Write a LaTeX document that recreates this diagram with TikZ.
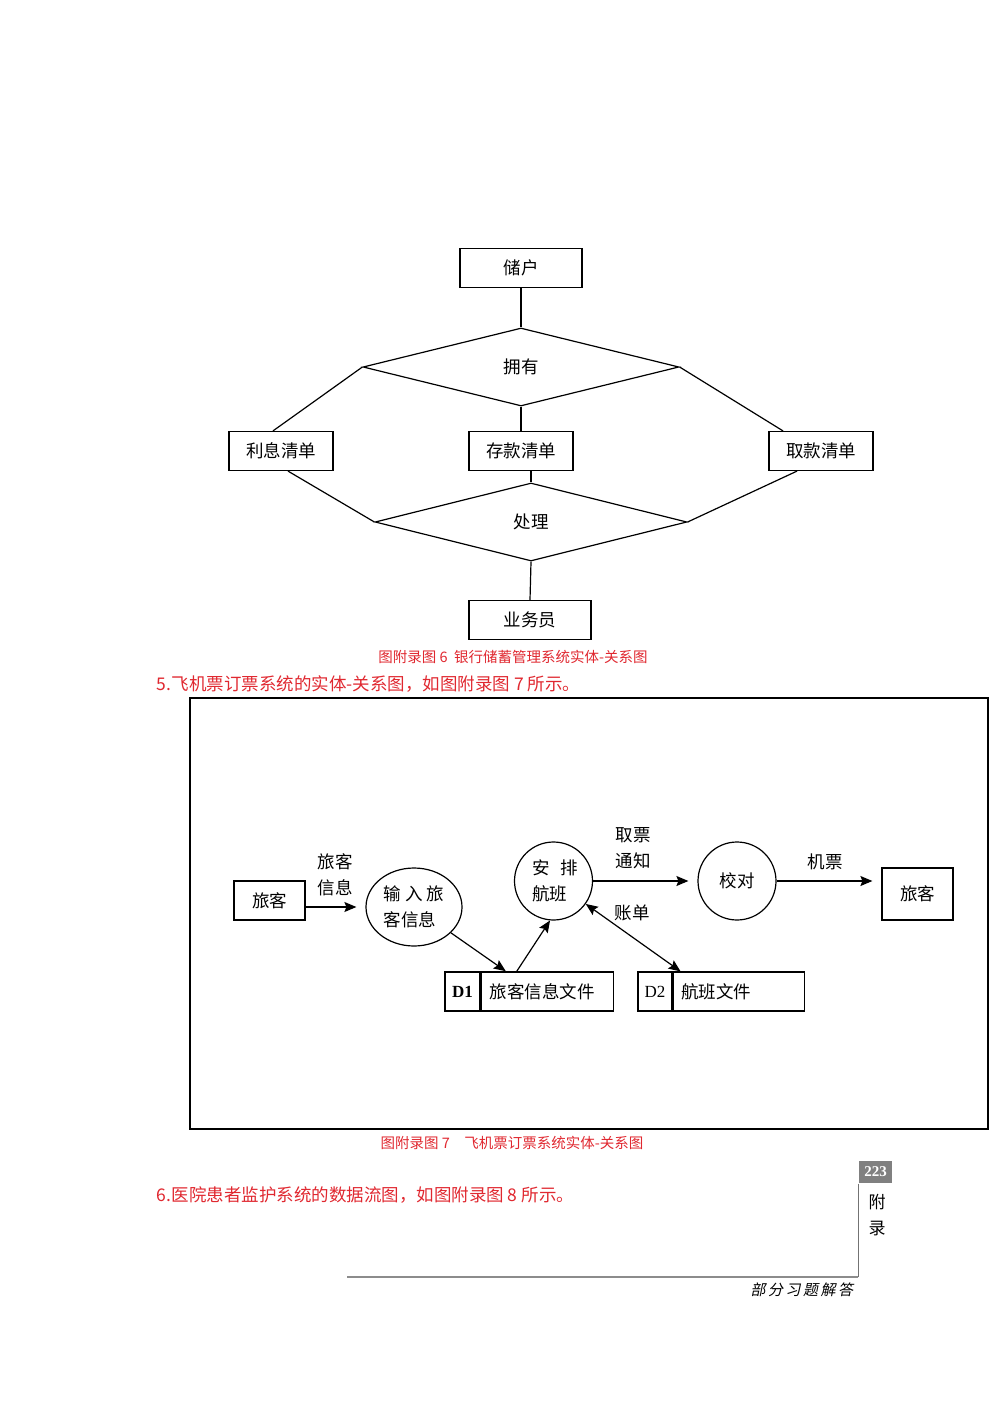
\documentclass[tikz,border=0pt]{standalone}
\usepackage{fontspec}
\setmainfont{Liberation Serif}
\newfontfamily\cjk{Noto Sans CJK SC}
\newfontfamily\cjkslant[FakeSlant=0.2]{Noto Sans CJK SC}
\usetikzlibrary{arrows.meta, positioning, shapes.geometric}
\definecolor{capred}{RGB}{224,40,48}
\definecolor{tabgray}{RGB}{128,128,128}
\newcommand{\dfont}{\cjk\fontsize{17.5}{26}\selectfont}
\tikzset{
  entity/.style={draw, minimum height=39pt, inner xsep=17pt, font=\dfont},
  rel/.style={draw, diamond, inner sep=0pt, minimum width=#1, minimum height=78pt, font=\dfont},
  rel/.default=316pt,
  proc/.style={draw, circle, minimum size=78pt, inner sep=0pt, align=left, font=\dfont},
  procwide/.style={draw, ellipse, minimum width=96pt, minimum height=78pt, inner sep=0pt, align=left, font=\dfont},
  storeid/.style={draw, minimum height=39pt, minimum width=#1, inner sep=0pt, font=\fontsize{17}{20}\selectfont},
  storename/.style={draw, minimum height=39pt, inner xsep=8pt, inner ysep=0pt, text width=#1, align=left, font=\dfont},
  flow/.style={-{Stealth[length=12pt, width=10pt, inset=2pt]}},
  dflow/.style={{Stealth[length=12pt, width=10pt, inset=2pt]}-{Stealth[length=12pt, width=10pt, inset=2pt]}},
  flowlabel/.style={font=\dfont, align=center},
  caption/.style={text=capred, font=\cjk\fontsize{14.5}{17}\selectfont},
  redline/.style={text=capred, anchor=west, font=\cjk\fontsize{17.5}{20}\selectfont},
}

\begin{document}
\begin{tikzpicture}[x=1pt, y=-1pt, line width=1.2pt]
    \useasboundingbox (0,0) rectangle (993,1404);
    \node[entity, minimum width=122pt] (saver) at (521,268) {储户};
    \node[rel] (has) at (521,367) {拥有};
    \foreach \n/\x/\t in {interest/281/利息清单, deposit/521/存款清单, withdraw/821/取款清单} {
      \node[entity] (\n) at (\x,451) {\t};
    }
    \node[rel=312pt] (handle) at (531,522) {处理};
    \node[entity, minimum width=122pt] (clerk) at (530,620) {业务员};
    \draw (saver) -- (has.north);
    \draw (has.west) -- ([xshift=-8pt]interest.north);
    \draw (has.east) -- ([xshift=-38pt]withdraw.north);
    \draw (has.south) -- (deposit.north);
    \draw ([xshift=7pt]interest.south) -- (handle.west);
    \draw (handle.north |- deposit.south) -- (handle.north);
    \draw ([xshift=-24pt]withdraw.south) -- (handle.east);
    \draw (handle.south) -- (clerk.north);
    \node[caption] (cap6) at (513,657) {图附录图 6\ \ 银行储蓄管理系统实体-关系图};
    \node[redline] (item5) at (153,684) {5.飞机票订票系统的实体-关系图，如图附录图 7 所示。};

    \draw[line width=1.3pt] (190,698) rectangle (988,1129);
    \node[entity, inner xsep=18pt] (trav) at (269.5,900.5) {旅客};
    \node[procwide] (input) at (414,907) {输\ 入\ 旅\\客信息};
    \node[proc] (arrange) at (553.5,881) {\hspace{3pt}安\hspace{11pt}排\\\hspace{3pt}航班};
    \node[proc] (check) at (737,881) {校对};
    \node[entity, minimum width=71pt, minimum height=52pt] (trav2) at (917.5,894) {旅客};
    \node[storeid=35pt, line width=1.6pt, font=\bfseries\fontsize{17}{20}\selectfont] (d1id) at (462.5,991.5) {D1};
    \node[storename=116pt, line width=1.6pt, right=0pt of d1id] (d1) {旅客信息文件};
    \node[storeid=34pt] (d2id) at (655,991.5) {D2};
    \node[storename=115pt, right=0pt of d2id] (d2) {航班文件};
    \draw[flow, shorten >=9pt] (input.west -| trav.east) -- (input.west);
    \draw[flow] (input) -- ([xshift=25pt]d1.north west);
    \draw[flow] ([xshift=36pt]d1.north west) -- (arrange.-95);
    \draw[flow, shorten >=9pt] (arrange) -- (check);
    \draw[flow, shorten >=9pt] (check.east) -- (check.east -| trav2.west);
    \draw[dflow] (arrange) -- ([xshift=8pt]d2.north west);
    \node[flowlabel] (lbltrav) at (335,875) {旅客\\信息};
    \node[flowlabel] (lblnotice) at (633,848) {取票\\通知};
    \node[flowlabel] (lblticket) at (825,862) {机票};
    \node[flowlabel] (lblbill) at (632,913) {账单};
    \node[caption] (cap7) at (512,1143) {图附录图 7\quad 飞机票订票系统实体-关系图};
    \node[redline] (item6) at (153,1195) {6.医院患者监护系统的数据流图，如图附录图 8 所示。};

    \node[fill=tabgray, text=white, font=\bfseries\fontsize{15}{17}\selectfont, minimum width=33pt, minimum height=22pt, inner sep=0pt] (pagenum) at (875.5,1172) {223};
    \coordinate (ruleend) at (347,1277);
    \draw[black!55] (pagenum.south west) -- (pagenum.south west |- ruleend) coordinate (corner);
    \draw[black!45] (corner) -- (ruleend);
    \node[font=\cjk\fontsize{17}{26}\selectfont, align=center] (tabtext) at (877,1215) {附\\录};
    \node[font=\cjkslant\fontsize{15}{18}\selectfont, anchor=east] (footer) at (857,1290) {部\,分\,习\,题\,解\,答};
\end{tikzpicture}
\end{document}
